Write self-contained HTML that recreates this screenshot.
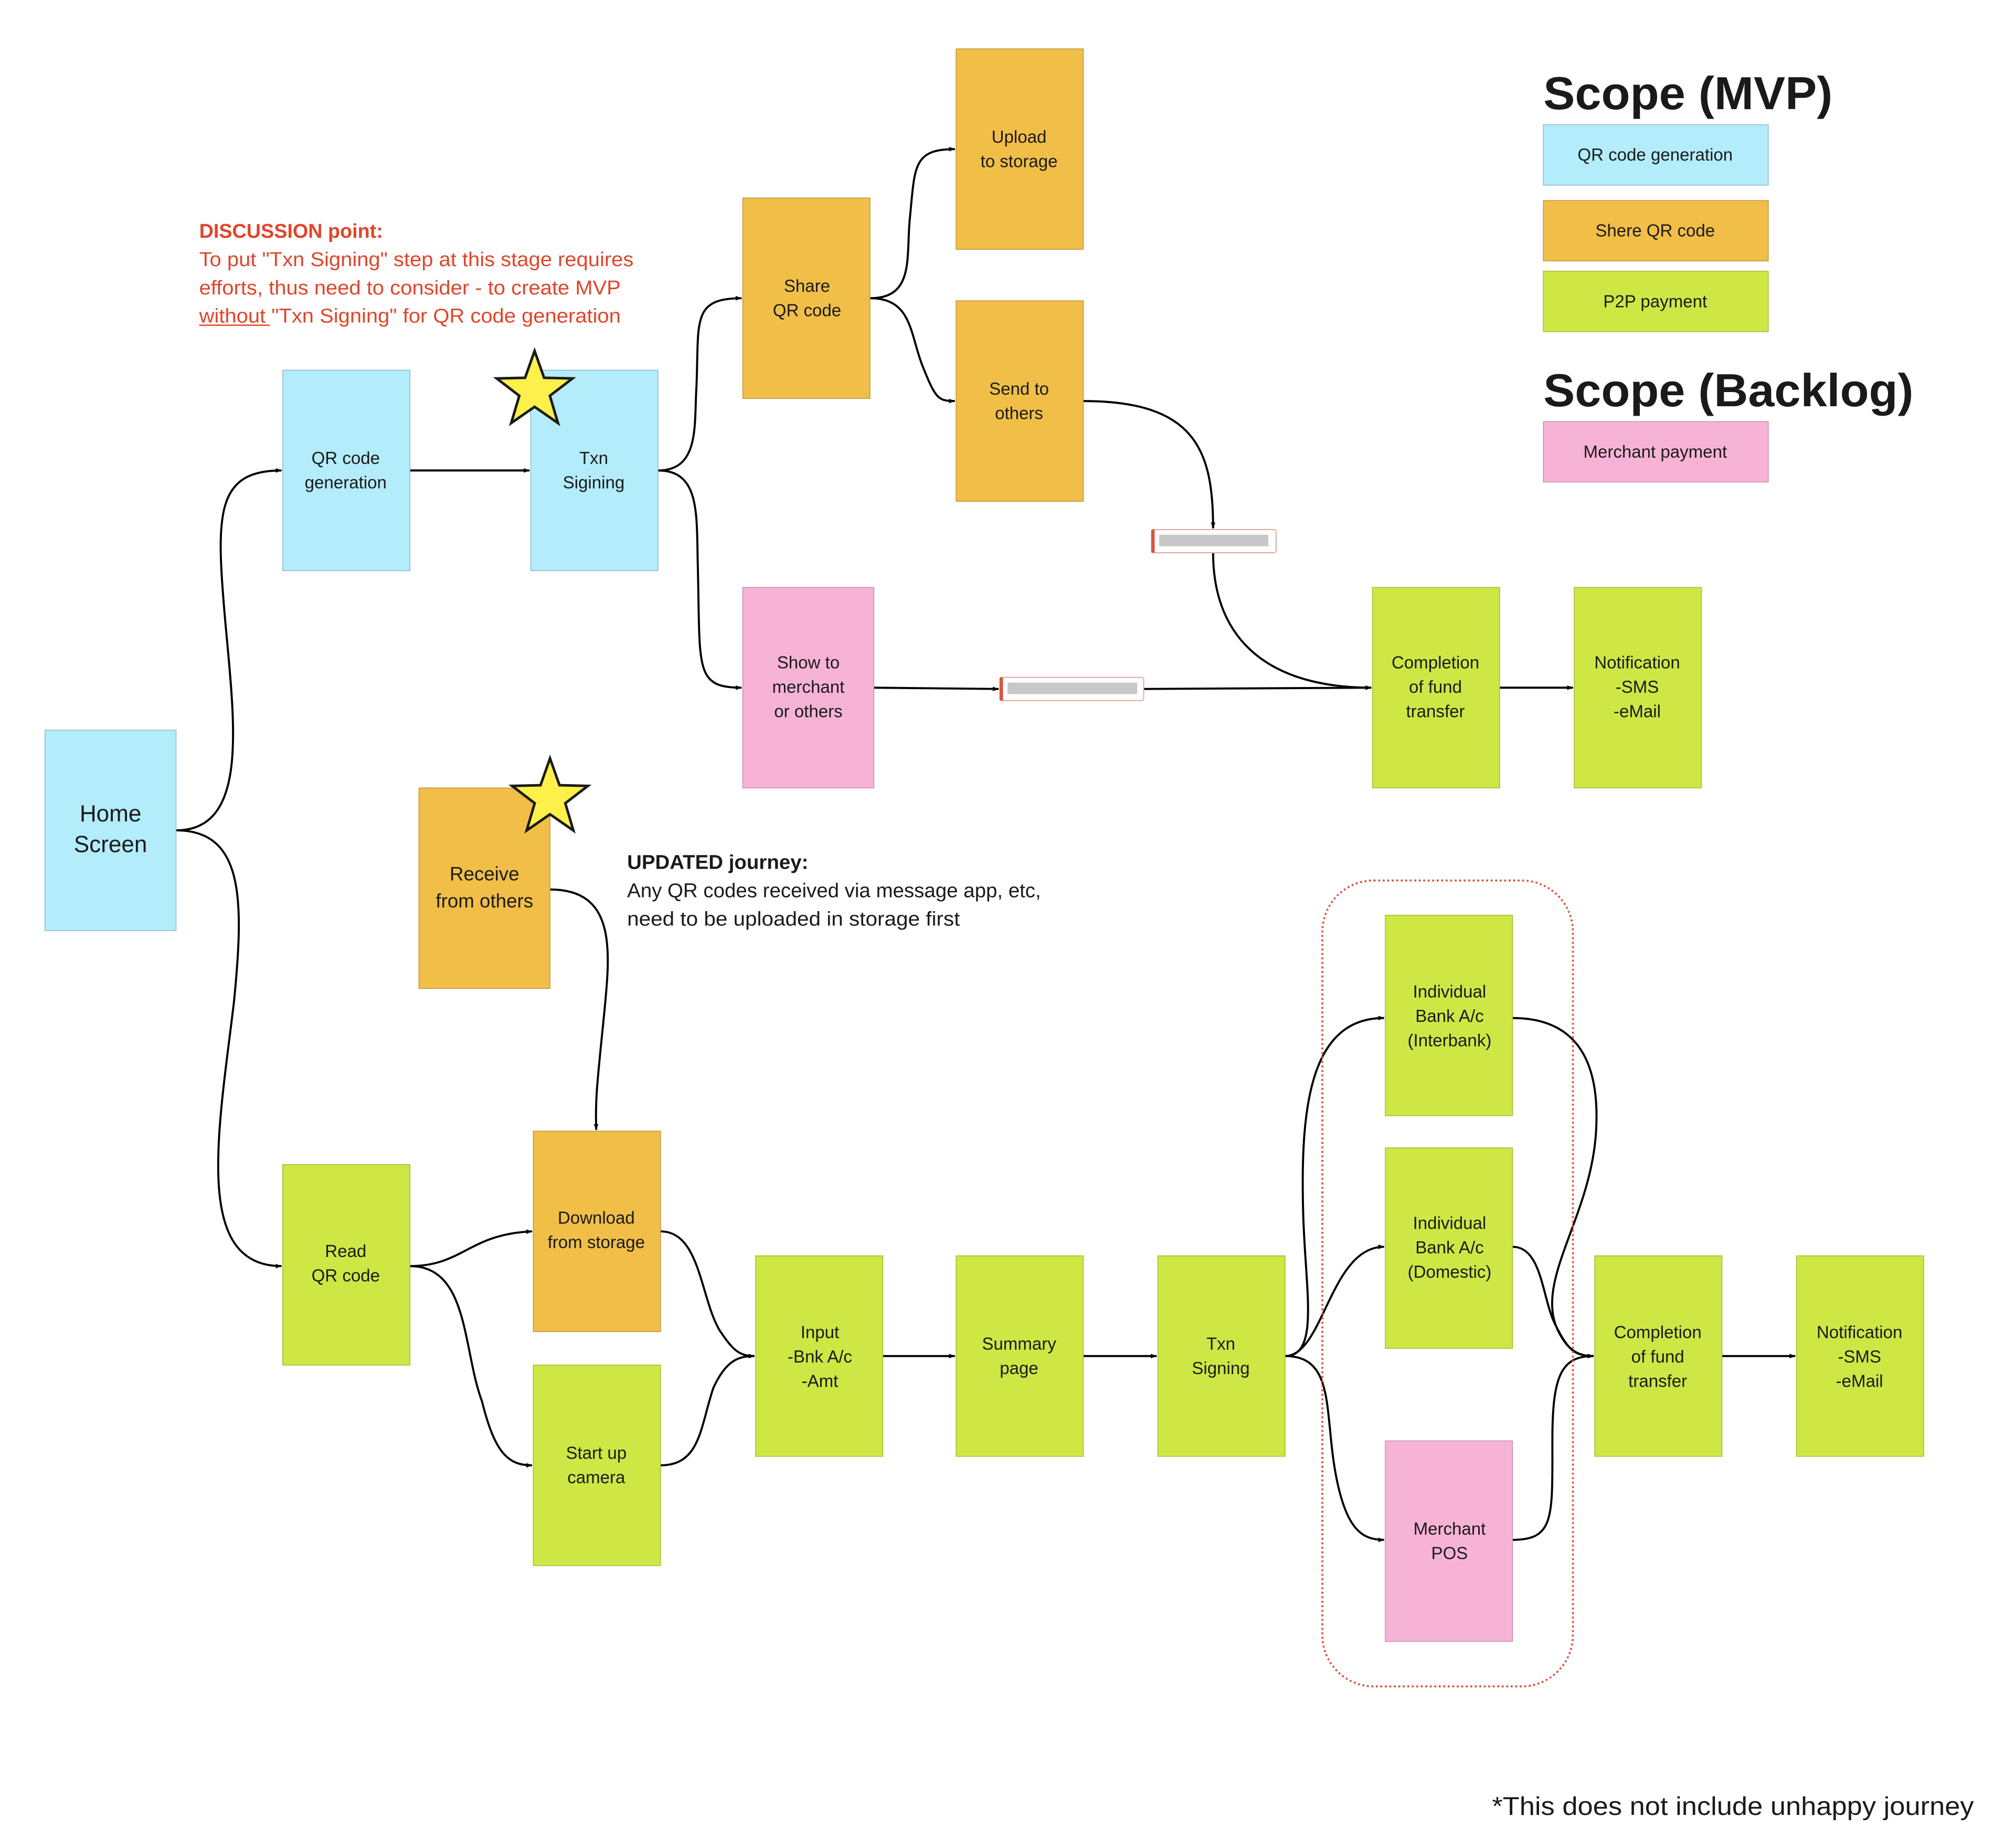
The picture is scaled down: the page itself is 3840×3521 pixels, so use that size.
<!DOCTYPE html>
<html><head><meta charset="utf-8"><style>
html,body{margin:0;padding:0;background:#fff;}
svg{display:block;}
text{font-family:"Liberation Sans",sans-serif;fill:#1a1a1a;}
.b{font-size:13.5px;text-anchor:middle;}
</style></head><body>
<svg width="3840" height="3521" viewBox="0 0 1568 1437.7" xmlns="http://www.w3.org/2000/svg">
<defs>
<marker id="a" viewBox="0 0 10 10" refX="9" refY="5" markerWidth="5" markerHeight="5" orient="auto" markerUnits="userSpaceOnUse"><path d="M0,1.5 L10,5 L0,8.5 z" fill="#000"/></marker>
</defs>
<rect width="1568" height="1437.7" fill="#fff"/>

<g fill="none" stroke="#000" stroke-width="1.6" marker-end="url(#a)">
<path d="M137,646 C195,646 182,560 175,480 C168,400 168,366 219,366"/>
<path d="M137,646 C190,646 190,700 182,780 C170,880 150,985 219,985"/>
<path d="M319,366 L412,366"/>
<path d="M512,366 C545,366 540,330 542,300 C544,250 538,232 577,232"/>
<path d="M512,366 C545,366 542,400 543,440 C545,520 540,535 577,535"/>
<path d="M677,232 C712,232 705,200 708,170 C712,130 710,116 743,116"/>
<path d="M677,232 C710,232 708,260 718,285 C728,310 730,312 743,312"/>
<path d="M843,312 C930,312 944,350 944,411"/>
<path d="M944,430 C944,500 990,535 1067,535"/>
<path d="M680,535 L777,536"/>
<path d="M890,536 L1067,535"/>
<path d="M1167,535 L1224,535"/>
<path d="M428,692 C480,692 475,740 470,790 C465,840 463,855 464,879"/>
<path d="M319,985 C360,985 365,960 414,958"/>
<path d="M319,985 C365,985 360,1050 375,1090 C385,1130 395,1140 414,1140"/>
<path d="M514,958 C545,958 545,1010 560,1035 C570,1050 575,1055 587,1055"/>
<path d="M514,1140 C545,1140 545,1110 555,1080 C565,1058 575,1055 587,1055"/>
<path d="M687,1055 L743,1055"/>
<path d="M843,1055 L900,1055"/>
<path d="M1000,1055 C1028,1055 1015,1000 1014,940 C1012,860 1020,792 1077,792"/>
<path d="M1000,1055 C1030,1055 1035,970 1077,970"/>
<path d="M1000,1055 C1040,1055 1030,1100 1040,1150 C1048,1190 1060,1198 1077,1198"/>
<path d="M1177,792 C1230,792 1245,830 1242,880 C1238,950 1190,1000 1215,1040 C1222,1052 1230,1055 1240,1055"/>
<path d="M1177,970 C1200,970 1200,1010 1210,1030 C1220,1050 1225,1055 1240,1055"/>
<path d="M1177,1198 C1210,1198 1208,1180 1208,1120 C1208,1070 1215,1055 1240,1055"/>
<path d="M1340,1055 L1397,1055"/>
</g>

<rect x="1029" y="685" width="195" height="627" rx="40" fill="none" stroke="#d9533c" stroke-width="1.5" stroke-dasharray="1.5 2"/>

<g stroke-width="0.6">
<rect x="35" y="568" width="102" height="156" fill="#b3ecfb" stroke="#8fb9c6"/>
<rect x="220" y="288" width="99" height="156" fill="#b3ecfb" stroke="#8fb9c6"/>
<rect x="413" y="288" width="99" height="156" fill="#b3ecfb" stroke="#8fb9c6"/>
<rect x="578" y="154" width="99" height="156" fill="#f1be48" stroke="#bf9638"/>
<rect x="744" y="38" width="99" height="156" fill="#f1be48" stroke="#bf9638"/>
<rect x="744" y="234" width="99" height="156" fill="#f1be48" stroke="#bf9638"/>
<rect x="578" y="457" width="102" height="156" fill="#f7b3d6" stroke="#c48fab"/>
<rect x="1068" y="457" width="99" height="156" fill="#cee744" stroke="#a4b836"/>
<rect x="1225" y="457" width="99" height="156" fill="#cee744" stroke="#a4b836"/>
<rect x="326" y="613" width="102" height="156" fill="#f1be48" stroke="#bf9638"/>
<rect x="220" y="906" width="99" height="156" fill="#cee744" stroke="#a4b836"/>
<rect x="415" y="880" width="99" height="156" fill="#f1be48" stroke="#bf9638"/>
<rect x="415" y="1062" width="99" height="156" fill="#cee744" stroke="#a4b836"/>
<rect x="588" y="977" width="99" height="156" fill="#cee744" stroke="#a4b836"/>
<rect x="744" y="977" width="99" height="156" fill="#cee744" stroke="#a4b836"/>
<rect x="901" y="977" width="99" height="156" fill="#cee744" stroke="#a4b836"/>
<rect x="1078" y="712" width="99" height="156" fill="#cee744" stroke="#a4b836"/>
<rect x="1078" y="893" width="99" height="156" fill="#cee744" stroke="#a4b836"/>
<rect x="1078" y="1121" width="99" height="156" fill="#f7b3d6" stroke="#c48fab"/>
<rect x="1241" y="977" width="99" height="156" fill="#cee744" stroke="#a4b836"/>
<rect x="1398" y="977" width="99" height="156" fill="#cee744" stroke="#a4b836"/>
<rect x="1201" y="97" width="175" height="47" fill="#b3ecfb" stroke="#8fb9c6"/>
<rect x="1201" y="156" width="175" height="47" fill="#f1be48" stroke="#bf9638"/>
<rect x="1201" y="211" width="175" height="47" fill="#cee744" stroke="#a4b836"/>
<rect x="1201" y="328" width="175" height="47" fill="#f7b3d6" stroke="#c48fab"/>
</g>

<rect x="896" y="412" width="97" height="18" rx="1.5" fill="#fff" stroke="#e0a89c" stroke-width="0.8"/>
<rect x="896" y="412" width="2.5" height="18" fill="#d9533c"/>
<rect x="902" y="416" width="85" height="9" fill="#c8c8c8"/>
<rect x="778" y="527" width="112" height="18" rx="1.5" fill="#fff" stroke="#e0a89c" stroke-width="0.8"/>
<rect x="778" y="527" width="2.5" height="18" fill="#d9533c"/>
<rect x="784" y="531" width="101" height="9" fill="#c8c8c8"/>

<polygon points="416,273 423.4,293.9 445.5,294.4 427.9,307.9 434.2,329.1 416,316.5 397.8,329.1 404.1,307.9 386.5,294.4 408.6,293.9" fill="#fdf04a" stroke="#1a1a1a" stroke-width="2"/>
<polygon points="428,590 435.4,610.9 457.5,611.4 439.9,624.9 446.2,646.1 428,633.5 409.8,646.1 416.1,624.9 398.5,611.4 420.6,610.9" fill="#fdf04a" stroke="#1a1a1a" stroke-width="2"/>

<text x="86" y="639" class="b" style="font-size:18px">Home</text>
<text x="86" y="663" class="b" style="font-size:18px">Screen</text>
<text x="269" y="361" class="b">QR code</text><text x="269" y="380" class="b">generation</text>
<text x="462" y="361" class="b">Txn</text><text x="462" y="380" class="b">Sigining</text>
<text x="628" y="227" class="b">Share</text><text x="628" y="246" class="b">QR code</text>
<text x="793" y="111" class="b">Upload</text><text x="793" y="130" class="b">to storage</text>
<text x="793" y="307" class="b">Send to</text><text x="793" y="326" class="b">others</text>
<text x="629" y="520" class="b">Show to</text><text x="629" y="539" class="b">merchant</text><text x="629" y="558" class="b">or others</text>
<text x="1117" y="520" class="b">Completion</text><text x="1117" y="539" class="b">of fund</text><text x="1117" y="558" class="b">transfer</text>
<text x="1274" y="520" class="b">Notification</text><text x="1274" y="539" class="b">-SMS</text><text x="1274" y="558" class="b">-eMail</text>
<text x="377" y="685" class="b" style="font-size:15px">Receive</text><text x="377" y="706" class="b" style="font-size:15px">from others</text>
<text x="269" y="978" class="b">Read</text><text x="269" y="997" class="b">QR code</text>
<text x="464" y="952" class="b">Download</text><text x="464" y="971" class="b">from storage</text>
<text x="464" y="1135" class="b">Start up</text><text x="464" y="1154" class="b">camera</text>
<text x="638" y="1041" class="b">Input</text><text x="638" y="1060" class="b">-Bnk A/c</text><text x="638" y="1079" class="b">-Amt</text>
<text x="793" y="1050" class="b">Summary</text><text x="793" y="1069" class="b">page</text>
<text x="950" y="1050" class="b">Txn</text><text x="950" y="1069" class="b">Signing</text>
<text x="1128" y="776" class="b">Individual</text><text x="1128" y="795" class="b">Bank A/c</text><text x="1128" y="814" class="b">(Interbank)</text>
<text x="1128" y="956" class="b">Individual</text><text x="1128" y="975" class="b">Bank A/c</text><text x="1128" y="994" class="b">(Domestic)</text>
<text x="1128" y="1194" class="b">Merchant</text><text x="1128" y="1213" class="b">POS</text>
<text x="1290" y="1041" class="b">Completion</text><text x="1290" y="1060" class="b">of fund</text><text x="1290" y="1079" class="b">transfer</text>
<text x="1447" y="1041" class="b">Notification</text><text x="1447" y="1060" class="b">-SMS</text><text x="1447" y="1079" class="b">-eMail</text>

<text x="1201" y="85" style="font-size:36px;font-weight:bold" textLength="225" lengthAdjust="spacingAndGlyphs">Scope (MVP)</text>
<text x="1288" y="125" class="b">QR code generation</text>
<text x="1288" y="184" class="b">Shere QR code</text>
<text x="1288" y="239" class="b">P2P payment</text>
<text x="1201" y="316" style="font-size:36px;font-weight:bold" textLength="288" lengthAdjust="spacingAndGlyphs">Scope (Backlog)</text>
<text x="1288" y="356" class="b">Merchant payment</text>

<g style="font-size:15.5px">
<text x="155" y="185" style="fill:#e0452a;font-weight:bold" textLength="143" lengthAdjust="spacingAndGlyphs">DISCUSSION point:</text>
<text x="155" y="207" style="fill:#e0452a" textLength="338" lengthAdjust="spacingAndGlyphs">To put "Txn Signing" step at this stage requires</text>
<text x="155" y="229" style="fill:#e0452a" textLength="328" lengthAdjust="spacingAndGlyphs">efforts, thus need to consider - to create MVP</text>
<text x="155" y="251" style="fill:#e0452a" textLength="328" lengthAdjust="spacingAndGlyphs">without "Txn Signing" for QR code generation</text>
<text x="488" y="676" style="font-weight:bold" textLength="141" lengthAdjust="spacingAndGlyphs">UPDATED journey:</text>
<text x="488" y="698" textLength="322" lengthAdjust="spacingAndGlyphs">Any QR codes received via message app, etc,</text>
<text x="488" y="720" textLength="259" lengthAdjust="spacingAndGlyphs">need to be uploaded in storage first</text>
</g>
<line x1="155" y1="253" x2="210" y2="253" stroke="#e0452a" stroke-width="1"/>
<text x="1536" y="1412" style="font-size:20px;text-anchor:end" textLength="375" lengthAdjust="spacingAndGlyphs">*This does not include unhappy journey</text>
</svg>
</body></html>
